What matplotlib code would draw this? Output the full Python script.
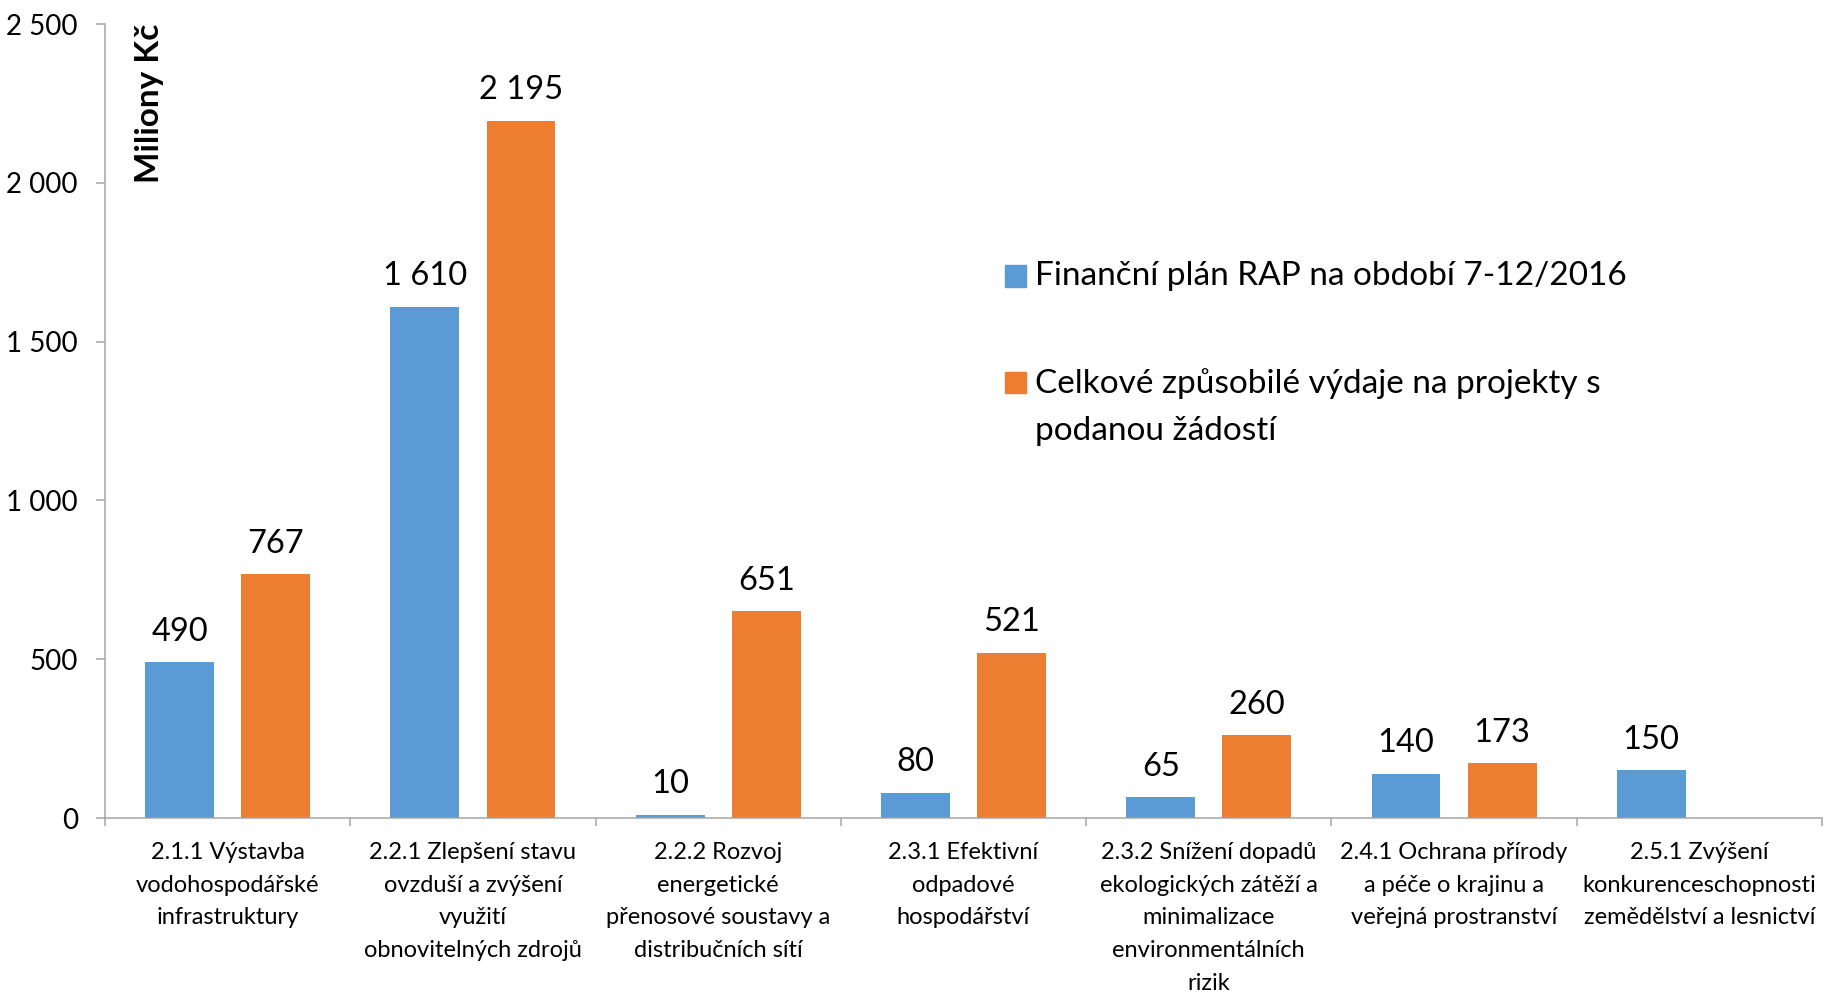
import numpy as np
import matplotlib
matplotlib.use("Agg")
import matplotlib.pyplot as plt
from matplotlib.patches import Rectangle
from matplotlib.ticker import FuncFormatter

plt.rcParams["font.family"] = ["Lato", "DejaVu Sans"]

BLUE   = "#5B9BD5"
ORANGE = "#ED7D31"
AXIS   = "#A6A6A6"

# ── data ─────────────────────────────────────────────────────────────────────
categories = [
    "2.1.1 Výstavba\nvodohospodářské\ninfrastruktury",
    "2.2.1 Zlepšení stavu\novzduší a zvýšení\nvyužití\nobnovitelných zdrojů",
    "2.2.2 Rozvoj\nenergetické\npřenosové soustavy a\ndistribučních sítí",
    "2.3.1 Efektivní\nodpadové\nhospodářství",
    "2.3.2 Snížení dopadů\nekologických zátěží a\nminimalizace\nenvironmentálních\nrizik",
    "2.4.1 Ochrana přírody\na péče o krajinu a\nveřejná prostranství",
    "2.5.1 Zvýšení\nkonkurenceschopnosti\nzemědělství a lesnictví",
]
plan_values    = [490, 1610, 10, 80, 65, 140, 150]
podane_values  = [767, 2195, 651, 521, 260, 173, np.nan]
series_names   = ["Finanční plán RAP na období 7-12/2016",
                  "Celkové způsobilé výdaje na projekty s\npodanou žádostí"]
y_ticks        = [0, 500, 1000, 1500, 2000, 2500]
y_label        = "Miliony Kč"


def cz(v):
    # Czech thousands separator (space)
    return f"{v:,.0f}".replace(",", " ")


# ── figure ───────────────────────────────────────────────────────────────────
fig = plt.figure(figsize=(18.27, 9.93), dpi=100)
ax = fig.add_axes([0.05747, 0.17623, 0.93979, 0.79960])

x = np.arange(len(categories))
w, off = 0.281, 0.196
b1 = ax.bar(x - off, plan_values, width=w, color=BLUE)
b2 = ax.bar(x + off, podane_values, width=w, color=ORANGE)

for bars, vals in ((b1, plan_values), (b2, podane_values)):
    for bar, v in zip(bars, vals):
        if np.isnan(v):
            continue
        ax.annotate(cz(v), (bar.get_x() + bar.get_width() / 2, v),
                    xytext=(0, 15.5), textcoords="offset points",
                    ha="center", va="baseline", fontsize=23.5)

ax.set_xlim(-0.5, len(categories) - 0.5)
ax.set_ylim(0, 2500)

# category boundaries as tick marks, labels centred on minor ticks
ax.set_xticks(np.arange(len(categories) + 1) - 0.5)
ax.set_xticklabels([])
ax.set_xticks(x, minor=True)
ax.set_xticklabels(categories, minor=True, fontsize=17, linespacing=1.7)
ax.tick_params(axis="x", which="major", length=6, width=1.1, color=AXIS,
               direction="out")
ax.tick_params(axis="x", which="minor", length=0, pad=17)

ax.set_yticks(y_ticks)
ax.yaxis.set_major_formatter(FuncFormatter(lambda v, p: cz(v)))
ax.tick_params(axis="y", length=6.5, width=1.1, color=AXIS, pad=13,
               labelsize=20)

for s in ("top", "right"):
    ax.spines[s].set_visible(False)
for s in ("left", "bottom"):
    ax.spines[s].set_color(AXIS)
    ax.spines[s].set_linewidth(1.1)

# axis title inside the plot, rotated
fig.text(150 / 1827, 1 - 24 / 993, y_label, rotation=90, ha="center",
         va="top", fontsize=24, fontweight="bold")

# ── legend (drawn by hand to match the free-floating layout) ────────────────
sq = 21
for (cy, col, lab, va, ty) in ((276, BLUE, series_names[0], "center", 276),
                               (383, ORANGE, series_names[1], "top", 368)):
    fig.patches.append(Rectangle((1005 / 1827, 1 - (cy + sq / 2) / 993),
                                 sq / 1827, sq / 993, color=col,
                                 transform=fig.transFigure))
    fig.text(1035 / 1827, 1 - ty / 993, lab, ha="left", va=va, fontsize=24,
             linespacing=1.72)

fig.savefig("out.png", dpi=100)
